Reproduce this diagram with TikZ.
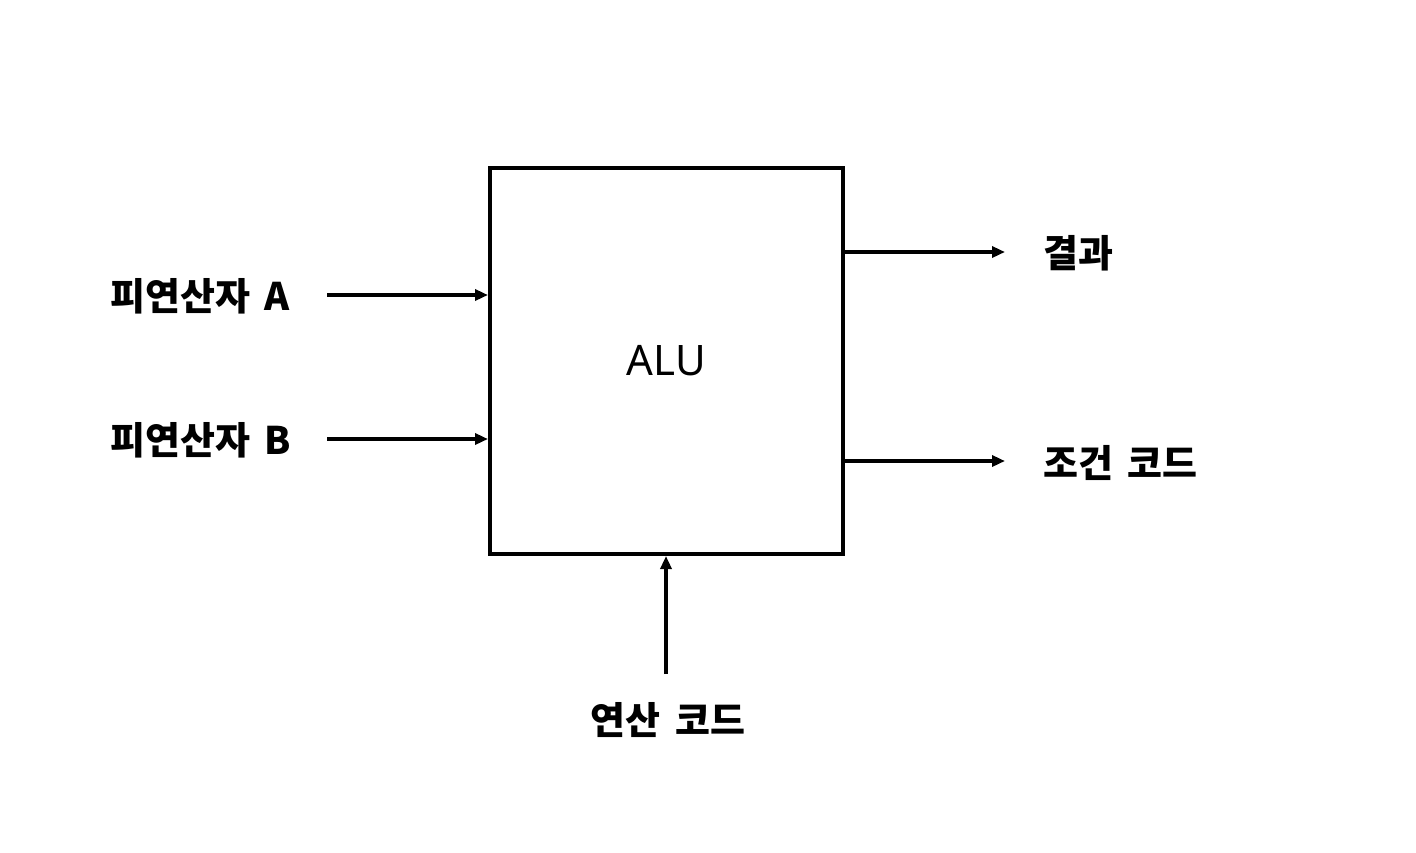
\documentclass[tikz,border=0pt]{standalone}
\usepackage{fontspec}
\usetikzlibrary{arrows.meta}
\newfontfamily\krfont{Noto Sans CJK KR}
\newfontfamily\latfont{Noto Sans}
\newcommand{\wsp}{\hspace{0.38em}}
\tikzset{
  conn/.style={line width=4pt, -{Triangle[length=13pt,width=11pt]}},
  lbl/.style={inner sep=0pt, font=\krfont\bfseries\fontsize{38}{42}\selectfont},
  alubox/.style={draw, line width=4pt, minimum width=353pt, minimum height=386pt, inner sep=0pt, font=\latfont\fontsize{42}{46}\selectfont}
}
\begin{document}
\begin{tikzpicture}[x=1pt,y=-1pt]
\useasboundingbox (0,0) rectangle (1416,852);
\node[alubox] (box) at (666.5,361) {ALU};
\node[lbl, anchor=west] (inA) at (110,296) {피연산자\wsp A};
\node[lbl, anchor=west] (inB) at (110,440) {피연산자\wsp B};
\node[lbl, anchor=west] (res) at (1043,253) {결과};
\node[lbl, anchor=west] (cc) at (1043,463) {조건\wsp 코드};
\node[lbl] (op) at (668,720) {연산\wsp 코드};
\coordinate (sA) at (327,295);
\coordinate (sB) at (327,439);
\coordinate (eR) at (1005,252);
\coordinate (eC) at (1005,461);
\coordinate (sO) at (666,674);
\draw[conn] (sA) -- (sA -| box.west);
\draw[conn] (sB) -- (sB -| box.west);
\draw[conn] (eR -| box.east) -- (eR);
\draw[conn] (eC -| box.east) -- (eC);
\draw[conn] (sO) -- (sO |- box.south);
\end{tikzpicture}
\end{document}
